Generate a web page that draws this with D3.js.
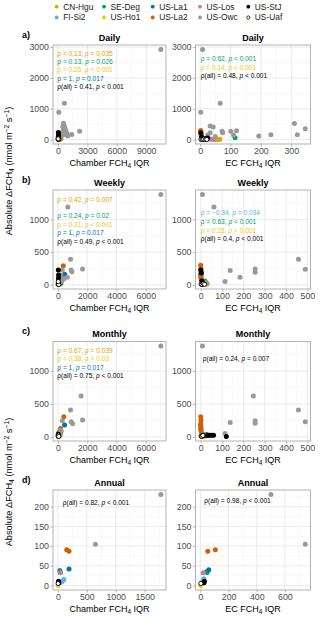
<!DOCTYPE html>
<html><head><meta charset="utf-8">
<script src="https://cdn.jsdelivr.net/npm/d3@7"></script>
<style>body{margin:0;background:#fff}svg{display:block;font-family:"Liberation Sans",Arial,sans-serif}</style>
</head><body><svg id="c" width="320" height="619"></svg>
<script>
const sites = ["CN-Hgu","FI-Si2","SE-Deg","US-Ho1","US-La1","US-La2","US-Los","US-Owc","US-StJ","US-Uaf"];
const siteColors = ["#E69F00","#56B4E9","#009E73","#F5C710","#0072B2","#D55E00","#CC79A7","#999999","#000000","#ffffff"];

// [site, IQR, absolute delta]
const dailyChamber = [
 ["CN-Hgu",100,40],["CN-Hgu",200,60],["CN-Hgu",300,30],["CN-Hgu",150,90],["CN-Hgu",250,20],
 ["FI-Si2",50,15],["FI-Si2",80,30],["FI-Si2",120,10],
 ["SE-Deg",60,20],["SE-Deg",90,40],["SE-Deg",150,25],
 ["US-Ho1",20,5],["US-Ho1",40,10],["US-Ho1",60,8],
 ["US-La1",380,175],["US-La1",250,120],
 ["US-La2",700,320],["US-La2",450,180],["US-La2",300,100],
 ["US-Los",80,20],["US-Los",60,35],
 ["US-Owc",10500,2920],["US-Owc",80,890],["US-Owc",650,1180],["US-Owc",550,530],["US-Owc",620,470],["US-Owc",480,420],["US-Owc",700,380],["US-Owc",580,330],["US-Owc",800,290],["US-Owc",450,260],["US-Owc",900,210],["US-Owc",1400,170],["US-Owc",2200,270],["US-Owc",750,160],["US-Owc",520,200],["US-Owc",350,140],["US-Owc",1000,120],["US-Owc",650,240],
 ["US-StJ",30,230],["US-StJ",50,150],["US-StJ",20,90],["US-StJ",60,60],
 ["US-Uaf",20,10],["US-Uaf",40,40],["US-Uaf",60,5],["US-Uaf",10,25]
];
const dailyEC = [
 ["CN-Hgu",44,10],["CN-Hgu",50,8],["CN-Hgu",55,12],["CN-Hgu",60,6],["CN-Hgu",65,10],
 ["FI-Si2",10,20],["FI-Si2",15,35],
 ["SE-Deg",115,60],["SE-Deg",20,40],["SE-Deg",30,25],
 ["US-Ho1",5,5],["US-Ho1",8,12],["US-Ho1",12,8],
 ["US-La1",3,150],["US-La1",5,100],
 ["US-La2",2,300],["US-La2",3,250],["US-La2",4,180],
 ["US-Los",43,5],["US-Los",38,10],
 ["US-Owc",8,2920],["US-Owc",2,890],["US-Owc",66,1180],["US-Owc",33,440],["US-Owc",43,410],["US-Owc",72,270],["US-Owc",74,220],["US-Owc",33,220],["US-Owc",101,270],["US-Owc",120,290],["US-Owc",110,150],["US-Owc",193,120],["US-Owc",233,160],["US-Owc",310,520],["US-Owc",320,160],["US-Owc",346,350],["US-Owc",25,150],["US-Owc",50,100],
 ["US-StJ",2,220],["US-StJ",5,80],["US-StJ",10,40],["US-StJ",20,30],["US-StJ",25,50],
 ["US-Uaf",3,10],["US-Uaf",8,5],["US-Uaf",12,15],["US-Uaf",18,8],["US-Uaf",22,5]
];
const weeklyChamber = [
 ["CN-Hgu",100,30],["CN-Hgu",200,50],["CN-Hgu",150,15],
 ["FI-Si2",50,20],["FI-Si2",90,40],
 ["SE-Deg",60,30],["SE-Deg",120,50],["SE-Deg",200,20],
 ["US-Ho1",20,5],["US-Ho1",40,15],
 ["US-La1",450,163],["US-La1",250,100],
 ["US-La2",360,293],["US-La2",180,117],["US-La2",30,60],["US-La2",60,80],
 ["US-Los",80,20],
 ["US-Owc",7030,1380],["US-Owc",673,1190],["US-Owc",855,390],["US-Owc",900,228],["US-Owc",950,200],["US-Owc",1680,240],["US-Owc",630,117],["US-Owc",295,228],["US-Owc",180,150],["US-Owc",400,90],["US-Owc",250,60],
 ["US-StJ",20,228],["US-StJ",40,150],["US-StJ",30,100],
 ["US-Uaf",10,10],["US-Uaf",30,30],["US-Uaf",50,5],["US-Uaf",20,50]
];
const weeklyEC = [
 ["CN-Hgu",10,10],["CN-Hgu",15,20],
 ["FI-Si2",5,30],["FI-Si2",10,50],
 ["SE-Deg",15,40],["SE-Deg",20,60],["SE-Deg",25,30],
 ["US-Ho1",20,10],["US-Ho1",28,5],
 ["US-La1",0,167],["US-La1",2,120],
 ["US-La2",0,300],["US-La2",1,250],["US-La2",2,200],["US-La2",1,150],["US-La2",0,120],["US-La2",2,90],
 ["US-Los",12,25],
 ["US-Owc",8,1380],["US-Owc",62,1190],["US-Owc",114,50],["US-Owc",138,217],["US-Owc",184,117],["US-Owc",255,243],["US-Owc",255,193],["US-Owc",458,390],["US-Owc",490,238],["US-Owc",20,40],["US-Owc",30,20],
 ["US-StJ",0,228],["US-StJ",3,180],["US-StJ",5,60],["US-StJ",8,40],
 ["US-Uaf",2,10],["US-Uaf",6,5],["US-Uaf",12,20],["US-Uaf",18,8]
];
const monthlyChamber = [
 ["CN-Hgu",100,30],["CN-Hgu",150,20],
 ["FI-Si2",60,25],["FI-Si2",90,40],
 ["SE-Deg",80,35],["SE-Deg",120,45],
 ["US-Ho1",20,5],["US-Ho1",50,10],
 ["US-La1",450,178],["US-La1",200,80],
 ["US-La2",400,305],["US-La2",180,128],["US-La2",100,80],["US-La2",50,60],
 ["US-Los",70,20],
 ["US-Owc",7030,1380],["US-Owc",1575,620],["US-Owc",855,407],["US-Owc",1680,255],["US-Owc",900,229],["US-Owc",1000,200],["US-Owc",295,244],["US-Owc",200,100],["US-Owc",150,50],
 ["US-StJ",20,40],["US-StJ",40,20],
 ["US-Uaf",10,10],["US-Uaf",30,25],["US-Uaf",50,5]
];
const monthlyEC = [
 ["CN-Hgu",10,10],
 ["FI-Si2",5,40],["FI-Si2",10,25],
 ["SE-Deg",15,35],["SE-Deg",25,40],["SE-Deg",30,30],
 ["US-Ho1",20,5],
 ["US-La1",0,170],["US-La1",1,120],
 ["US-La2",0,305],["US-La2",1,250],["US-La2",0,200],["US-La2",1,150],["US-La2",0,110],["US-La2",2,80],
 ["US-Los",15,20],
 ["US-Owc",8,1380],["US-Owc",247,620],["US-Owc",458,407],["US-Owc",490,229],["US-Owc",255,244],["US-Owc",255,205],["US-Owc",138,217],["US-Owc",114,50],["US-Owc",20,30],
 ["US-StJ",120,5],["US-StJ",30,20],["US-StJ",40,25],["US-StJ",50,22],["US-StJ",60,25],["US-StJ",10,15],
 ["US-Uaf",2,10],["US-Uaf",5,5],["US-Uaf",10,20]
];
const annualChamber = [
 ["FI-Si2",105,15],["FI-Si2",77,11],["FI-Si2",60,8],
 ["SE-Deg",35,38],["SE-Deg",40,33],
 ["US-Ho1",5,0],
 ["US-La1",193,42],
 ["US-La2",153,91],["US-La2",193,87],
 ["US-Los",47,32],
 ["US-Owc",1780,231],["US-Owc",650,105],
 ["US-StJ",12,11],["US-StJ",15,7],
 ["US-Uaf",5,5]
];
const annualEC = [
 ["FI-Si2",23,17],["FI-Si2",18,12],
 ["SE-Deg",43,35],["SE-Deg",48,33],
 ["US-Ho1",2,0],
 ["US-La1",59,40],
 ["US-La2",52,87],["US-La2",106,91],
 ["US-Los",19,32],
 ["US-Owc",501,231],["US-Owc",745,105],
 ["US-StJ",28,11],["US-StJ",25,7],
 ["US-Uaf",3,5]
];

// tick labels
const ticksDailyChamberX = [0,3000,6000,9000];
const ticksDailyECX = [0,100,200,300];
const ticksDailyY = [0,1000,2000,3000];
const ticksWeeklyChamberX = [0,2000,4000,6000];
const ticksWeeklyECX = [0,100,200,300,400,500];
const ticksWeeklyY = [0,500,1000];
const ticksMonthlyChamberX = [0,2000,4000,6000];
const ticksMonthlyECX = [0,100,200,300,400,500];
const ticksMonthlyY = [0,500,1000];
const ticksAnnualChamberX = [0,500,1000,1500];
const ticksAnnualECX = [0,200,400,600];
const ticksAnnualY = [0,50,100,150,200];

// correlation annotations [site, rho, p]
const annDailyChamber = [["CN-Hgu","0.13","= 0.035"],["SE-Deg","0.13","= 0.026"],["US-Ho1","0.25","< 0.001"],["US-La1","1","= 0.017"],["all","0.41","< 0.001"]];
const annDailyEC = [["SE-Deg","0.62","< 0.001"],["US-Ho1","0.14","< 0.001"],["all","0.48","< 0.001"]];
const annWeeklyChamber = [["CN-Hgu","0.42","= 0.007"],["SE-Deg","0.24","= 0.02"],["US-Ho1","0.31","< 0.001"],["US-La1","1","= 0.017"],["all","0.49","< 0.001"]];
const annWeeklyEC = [["FI-Si2","\u22120.34","= 0.034"],["SE-Deg","0.63","< 0.001"],["US-Ho1","0.23","< 0.001"],["all","0.4","< 0.001"]];
const annMonthlyChamber = [["CN-Hgu","0.67","= 0.039"],["US-Ho1","0.38","= 0.03"],["US-La1","1","= 0.017"],["all","0.75","< 0.001"]];
const annMonthlyEC = [["all","0.24","= 0.007"]];
const annAnnualChamber = [["all","0.82","< 0.001"]];
const annAnnualEC = [["all","0.98","< 0.001"]];

const rowTitles = ["Daily","Weekly","Monthly","Annual"];
const rowLabels = ["a)","b)","c)","d)"];

// ---------- layout ----------
const svg = d3.select("#c");
const rows = [{top:45,bottom:144},{top:190,bottom:289},{top:341.5,bottom:441},{top:490,bottom:590}];
const cols = [{left:53,right:166,xtitle:"Chamber"},{left:195.5,right:310.5,xtitle:"EC"}];
const panels = [
 {r:0,c:0,data:dailyChamber,xt:ticksDailyChamberX,yt:ticksDailyY,ann:annDailyChamber,ax:4.3,ay:8.3,as:8.35,slots:[0,1,2,3,4]},
 {r:0,c:1,data:dailyEC,xt:ticksDailyECX,yt:ticksDailyY,ann:annDailyEC,ax:5.2,ay:14,as:8.35,slots:[0,1,2]},
 {r:1,c:0,data:weeklyChamber,xt:ticksWeeklyChamberX,yt:ticksWeeklyY,ann:annWeeklyChamber,ax:4.3,ay:9.3,as:8.4,slots:[0,2,3,4,5]},
 {r:1,c:1,data:weeklyEC,xt:ticksWeeklyECX,yt:ticksWeeklyY,ann:annWeeklyEC,ax:5.2,ay:22.7,as:8.8,slots:[0,1,2,3]},
 {r:2,c:0,data:monthlyChamber,xt:ticksMonthlyChamberX,yt:ticksMonthlyY,ann:annMonthlyChamber,ax:4.3,ay:9.2,as:8.4,slots:[0,1,2,3]},
 {r:2,c:1,data:monthlyEC,xt:ticksMonthlyECX,yt:ticksMonthlyY,ann:annMonthlyEC,ax:7.2,ay:16.8,as:8.4,slots:[0]},
 {r:3,c:0,data:annualChamber,xt:ticksAnnualChamberX,yt:ticksAnnualY,ann:annAnnualChamber,ax:9.7,ay:12.3,as:8.4,slots:[0]},
 {r:3,c:1,data:annualEC,xt:ticksAnnualECX,yt:ticksAnnualY,ann:annAnnualEC,ax:8.8,ay:11,as:8.4,slots:[0]}
];
const colorOf = s => siteColors[sites.indexOf(s)];
function expand(ext){const d=(ext[1]-ext[0])*0.05;return [ext[0]-d,ext[1]+d];}
function minors(t,dom){const st=t[1]-t[0];const out=[];for(let v=t[0]-st/2;v<=dom[1];v+=st){if(v>=dom[0])out.push(v);}return out;}

panels.forEach(p=>{
  const R=rows[p.r], C=cols[p.c];
  const x=d3.scaleLinear().domain(expand(d3.extent(p.data,d=>d[1]))).range([C.left,C.right]);
  const y=d3.scaleLinear().domain(expand(d3.extent(p.data,d=>d[2]))).range([R.bottom,R.top]);
  const g=svg.append("g");
  // grids
  const clip=v=>v;
  minors(p.xt,x.domain()).forEach(v=>g.append("line").attr("x1",x(v)).attr("x2",x(v)).attr("y1",R.top).attr("y2",R.bottom).attr("stroke","#efefef").attr("stroke-width",0.4));
  minors(p.yt,y.domain()).forEach(v=>g.append("line").attr("y1",y(v)).attr("y2",y(v)).attr("x1",C.left).attr("x2",C.right).attr("stroke","#efefef").attr("stroke-width",0.4));
  p.xt.forEach(v=>g.append("line").attr("x1",x(v)).attr("x2",x(v)).attr("y1",R.top).attr("y2",R.bottom).attr("stroke","#e3e3e3").attr("stroke-width",0.7));
  p.yt.forEach(v=>g.append("line").attr("y1",y(v)).attr("y2",y(v)).attr("x1",C.left).attr("x2",C.right).attr("stroke","#e3e3e3").attr("stroke-width",0.7));
  // axes
  const ax=d3.axisBottom(x).tickValues(p.xt).tickSize(2.5).tickPadding(1.5).tickFormat(d3.format("d"));
  const ay=d3.axisLeft(y).tickValues(p.yt).tickSize(2.5).tickPadding(1.5).tickFormat(d3.format("d"));
  const gx=g.append("g").attr("transform",`translate(0,${R.bottom})`).call(ax);
  const gy=g.append("g").attr("transform",`translate(${C.left},0)`).call(ay);
  [gx,gy].forEach(a=>{a.select(".domain").remove();a.selectAll("line").attr("stroke","#b3b3b3");
    a.selectAll("text").attr("fill","#4d4d4d").attr("font-size",8.8).attr("font-family","Liberation Sans, Arial, sans-serif");});
  // border
  g.append("rect").attr("x",C.left).attr("y",R.top).attr("width",C.right-C.left).attr("height",R.bottom-R.top).attr("fill","none").attr("stroke","#b3b3b3").attr("stroke-width",1);
  // points
  const pts=p.data.slice().sort((a,b)=>sites.indexOf(a[0])-sites.indexOf(b[0]));
  g.selectAll("circle.pt").data(pts).enter().append("circle").attr("class","pt")
   .attr("cx",d=>x(d[1])).attr("cy",d=>y(d[2])).attr("r",d=>d[0]==="US-Uaf"?2.1:2.5)
   .attr("fill",d=>colorOf(d[0])).attr("stroke",d=>d[0]==="US-Uaf"?"#000":"none").attr("stroke-width",0.9);
  // annotations
  p.ann.forEach((a,i)=>{
    const t=g.append("text").attr("x",C.left+p.ax).attr("y",R.top+p.ay+p.slots[i]*p.as).attr("dy","0.35em")
      .attr("font-size",6.6).attr("fill",a[0]==="all"?"#000":colorOf(a[0]));
    t.append("tspan").text(a[0]==="all"?`\u03c1(all) = ${a[1]}, `:`\u03c1 = ${a[1]}, `);
    t.append("tspan").attr("font-style","italic").text("p");
    t.append("tspan").text(" "+a[2]);
  });
  // x title
  const xt=g.append("text").attr("x",(C.left+C.right)/2).attr("y",R.bottom+22).attr("text-anchor","middle").attr("font-size",9).attr("fill","#000");
  xt.append("tspan").text(C.xtitle+" FCH");
  xt.append("tspan").attr("font-size",6.5).attr("dy",2).text("4");
  xt.append("tspan").attr("dy",-2).text(" IQR");
  // panel title
  g.append("text").attr("x",(C.left+C.right)/2).attr("y",R.top-4.5).attr("text-anchor","middle").attr("font-size",9).attr("font-weight","bold").text(rowTitles[p.r]);
});
rows.forEach((R,i)=>svg.append("text").attr("x",22).attr("y",R.top-7.5).attr("font-size",9).attr("font-weight","bold").text(rowLabels[i]));

// y axis titles
[171,482].forEach(cy=>{
  const t=svg.append("text").attr("transform",`translate(12,${cy}) rotate(-90)`).attr("text-anchor","middle").attr("font-size",9.2).attr("fill","#000");
  t.append("tspan").text("Absolute \u0394FCH");
  t.append("tspan").attr("font-size",6.8).attr("dy",2).text("4");
  t.append("tspan").attr("dy",-2).text(" (nmol m");
  t.append("tspan").attr("font-size",6.8).attr("dy",-3.5).text("\u22122");
  t.append("tspan").attr("dy",3.5).text(" s");
  t.append("tspan").attr("font-size",6.8).attr("dy",-3.5).text("\u22121");
  t.append("tspan").attr("dy",3.5).text(")");
});

// legend
const legCols=[56.7,104,152.7,200,248.3], legRows=[6.7,17.5];
sites.forEach((s,i)=>{
  const cx=legCols[Math.floor(i/2)], cy=legRows[i%2];
  svg.append("circle").attr("cx",cx).attr("cy",cy).attr("r",s==="US-Uaf"?1.6:1.9).attr("fill",siteColors[i]).attr("stroke",s==="US-Uaf"?"#000":"none").attr("stroke-width",0.8);
  svg.append("text").attr("x",cx+6.5).attr("y",cy).attr("dy","0.35em").attr("font-size",8.4).attr("fill","#1a1a1a").text(s);
});
</script></body></html>
